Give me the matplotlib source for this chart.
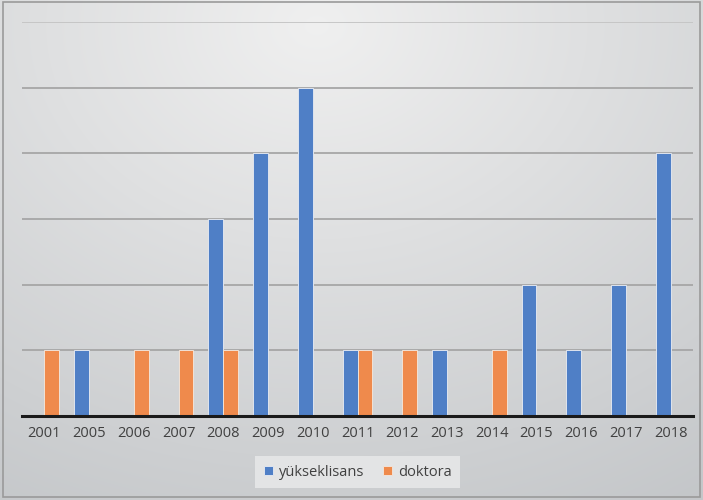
import numpy as np
import matplotlib
matplotlib.use("Agg")
import matplotlib.pyplot as plt

years = ["2001", "2005", "2006", "2007", "2008", "2009", "2010", "2011",
         "2012", "2013", "2014", "2015", "2016", "2017", "2018"]
yukseklisans = [0, 1, 0, 0, 3, 4, 5, 1, 0, 1, 0, 2, 1, 2, 4]
doktora = [1, 0, 1, 1, 1, 0, 0, 1, 1, 0, 1, 0, 0, 0, 0]

blue = "#4f7fc6"
orange = "#ef8a4c"

fig = plt.figure(figsize=(7.03, 5.0), dpi=100)

# soft radial gradient behind the whole chart
bg = fig.add_axes([0, 0, 1, 1], zorder=-10)
h, w = 500, 703
yy, xx = np.mgrid[0:h, 0:w]
cx, cy = 0.45 * w, 0.05 * h
d = np.sqrt(((xx - cx) / w) ** 2 + ((yy - cy) / h * 0.9) ** 2)
d = np.clip(d, 0, 1)
light = np.array([0.94, 0.94, 0.94])
dark = np.array([0.77, 0.78, 0.79])
img = light[None, None, :] * (1 - d[..., None]) + dark[None, None, :] * d[..., None]
bg.imshow(img, aspect="auto", extent=[0, 1, 0, 1], origin="upper")
bg.set_xlim(0, 1)
bg.set_ylim(0, 1)
bg.axis("off")
# thin frame around the chart area
bg.add_patch(plt.Rectangle((0.004, 0.006), 0.992, 0.99, fill=False,
                           edgecolor="#9a9a9a", lw=1.2))

ax = fig.add_axes([22 / 703, 84 / 500, 671 / 703, 394 / 500])
ax.set_facecolor("none")

x = np.arange(len(years))
bw = 1 / 3
ax.bar(x - bw / 2, yukseklisans, width=bw, color=blue, edgecolor="#dfe4ee",
       linewidth=0.7, label="yükseklisans", zorder=3)
ax.bar(x + bw / 2, doktora, width=bw, color=orange, edgecolor="#f1e2d6",
       linewidth=0.7, label="doktora", zorder=3)

ax.set_xlim(-0.5, len(years) - 0.5)
ax.set_ylim(0, 6)
ax.set_yticks(range(1, 7))
ax.yaxis.grid(True, color="#a6a6a6", linewidth=1.3, zorder=1)
ax.get_ygridlines()[-1].set_color("#c4c4c4")
ax.set_axisbelow(True)
ax.tick_params(axis="y", left=False, labelleft=False)
ax.set_xticks(x)
ax.set_xticklabels(years, fontsize=10.5, color="#404040", family="Open Sans")
ax.tick_params(axis="x", length=0, pad=7)
for s in ["left", "right", "top"]:
    ax.spines[s].set_visible(False)
ax.spines["bottom"].set_color("#1a1a1a")
ax.spines["bottom"].set_linewidth(2.2)
ax.spines["bottom"].set_zorder(4)

leg = fig.legend(loc="center", bbox_to_anchor=(0.509, 0.056), ncol=2,
                 frameon=True, fancybox=False, facecolor="#e3e4e5",
                 edgecolor="none", framealpha=1, handlelength=0.6,
                 handleheight=0.6, handletextpad=0.4, columnspacing=1.3,
                 borderpad=0.6, prop={"family": "Open Sans", "size": 10.5})
for t in leg.get_texts():
    t.set_color("#404040")

fig.savefig("out.png", dpi=100)
